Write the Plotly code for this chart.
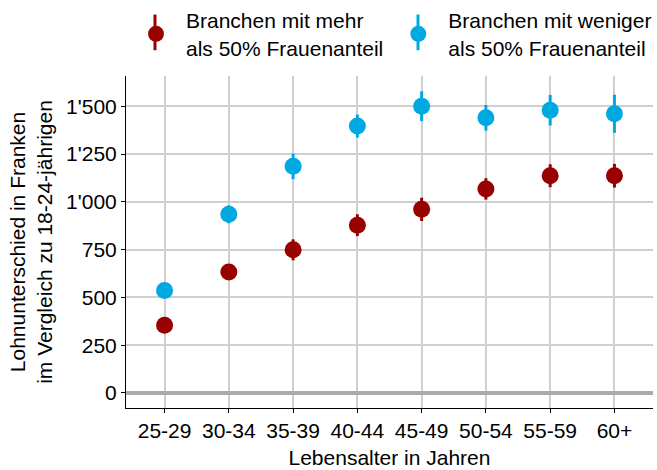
import plotly.graph_objects as go

categories = ["25-29", "30-34", "35-39", "40-44", "45-49", "50-54", "55-59", "60+"]
mehr_values = [354, 633, 749, 878, 961, 1068, 1137, 1137]
mehr_err = [30, 40, 55, 57, 61, 56, 60, 62]
weniger_values = [536, 935, 1186, 1397, 1501, 1440, 1480, 1461]
weniger_err = [30, 47, 67, 60, 78, 67, 80, 100]
y_ticks = [0, 250, 500, 750, 1000, 1250, 1500]
y_ticklabels = ["0", "250", "500", "750", "1'000", "1'250", "1'500"]

RED = "#990000"
BLUE = "#00A8E1"
FONT = "Liberation Sans, Arial, sans-serif"
FS = 21
W, H = 657, 470
ML, MR, MT, MB = 126, 4, 76, 59

fig = go.Figure()
fig.add_trace(go.Scatter(
    x=categories, y=mehr_values, mode="markers",
    name="Branchen mit mehr<br>als 50% Frauenanteil",
    marker=dict(color=RED, size=17),
    error_y=dict(type="data", array=mehr_err, color=RED, thickness=3, width=0),
))
fig.add_trace(go.Scatter(
    x=categories, y=weniger_values, mode="markers",
    name="Branchen mit weniger<br>als 50% Frauenanteil",
    marker=dict(color=BLUE, size=17),
    error_y=dict(type="data", array=weniger_err, color=BLUE, thickness=3, width=0),
))

# vertical whisker behind the legend symbols (legend glyph decoration)
pw, ph = W - ML - MR, H - MT - MB
def px2paper(px, py):
    return (px - ML) / pw, (H - MB - py) / ph
shapes = []
for gx, col in [(155, RED), (418, BLUE)]:
    x0, y0 = px2paper(gx, 50)
    _, y1 = px2paper(gx, 14)
    shapes.append(dict(type="line", xref="paper", yref="paper", x0=x0, x1=x0,
                       y0=y0, y1=y1, line=dict(color=col, width=3), layer="above"))

fig.update_layout(
    width=W, height=H,
    margin=dict(l=ML, r=MR, t=MT, b=MB),
    paper_bgcolor="white", plot_bgcolor="white",
    font=dict(family=FONT, size=FS, color="black"),
    showlegend=True,
    legend=dict(orientation="h", x=0.0, xanchor="left", y=1.0, yanchor="top",
                yref="container", font=dict(size=FS, color="black"),
                itemwidth=50, valign="middle", bgcolor="rgba(0,0,0,0)"),
    shapes=shapes,
)

fig.update_xaxes(
    type="category", categoryorder="array", categoryarray=categories,
    range=[-0.6, 7.6],
    showgrid=True, gridcolor="#CFCFCF", gridwidth=1.5,
    showline=True, linecolor="black", linewidth=1,
    ticks="outside", ticklen=4, tickcolor="black", tickwidth=1,
    tickfont=dict(size=FS, color="black"),
    title=dict(text="Lebensalter in Jahren", font=dict(size=FS, color="black"), standoff=9),
    zeroline=False,
)
fig.update_yaxes(
    range=[-79, 1659],
    tickvals=y_ticks, ticktext=y_ticklabels,
    showgrid=True, gridcolor="#CFCFCF", gridwidth=1.5,
    showline=True, linecolor="black", linewidth=1,
    ticks="outside", ticklen=4, tickcolor="black", tickwidth=1,
    tickfont=dict(size=FS, color="black"),
    zeroline=True, zerolinecolor="#ABABAB", zerolinewidth=4,
    title=dict(text="Lohnunterschied in Franken<br>im Vergleich zu 18-24-jährigen",
               font=dict(size=FS, color="black"), standoff=7),
)

fig.write_html("out.html", config={"displayModeBar": False},
               post_script="document.body.style.margin='0';document.body.style.overflow='hidden';")
